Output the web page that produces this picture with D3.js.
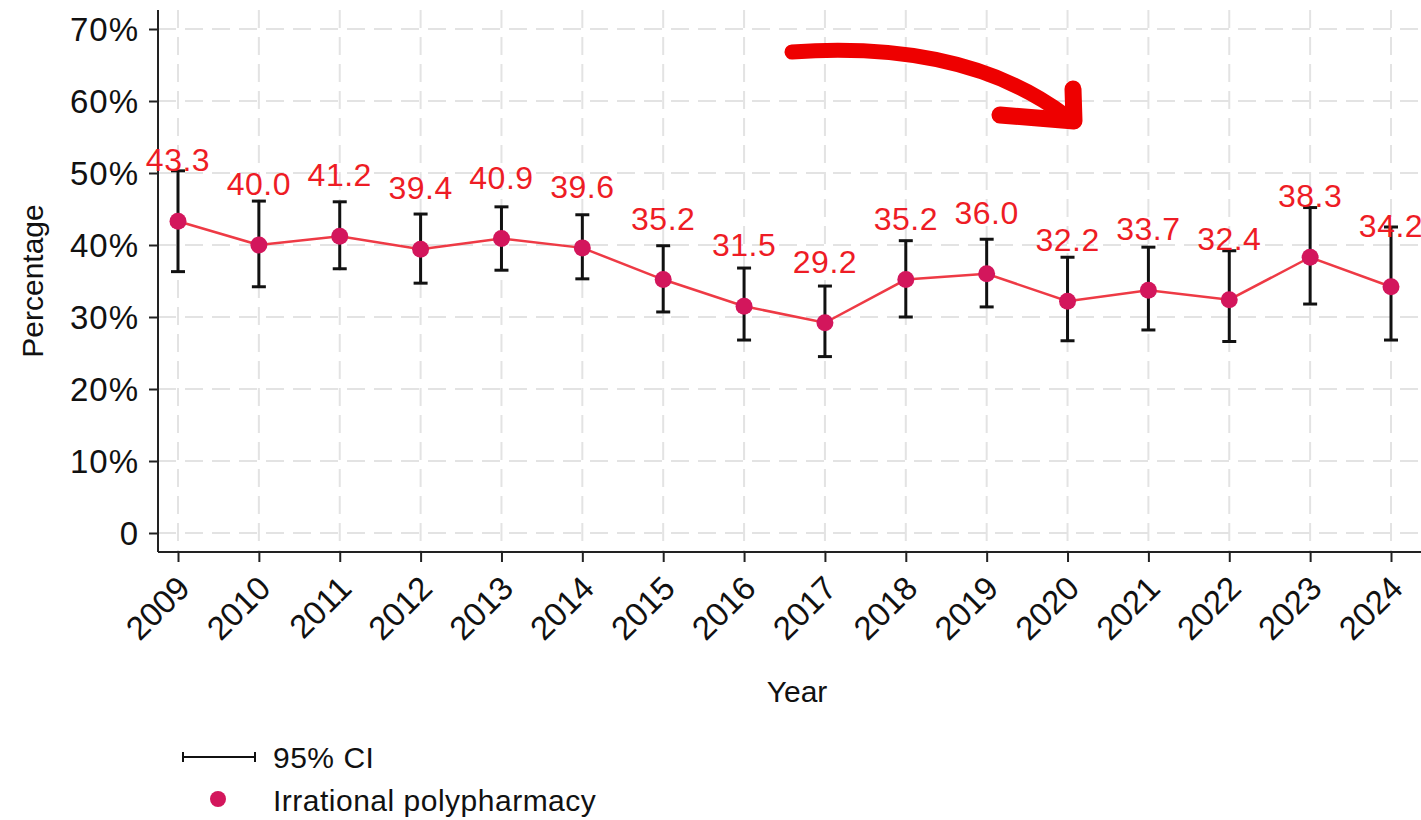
<!DOCTYPE html>
<html><head><meta charset="utf-8">
<script src="https://cdn.jsdelivr.net/npm/d3@7"></script>
<style>body{margin:0;background:#fff;}svg{display:block;font-family:"Liberation Sans",Arial,sans-serif;}</style>
</head><body>
<svg id="c" width="1421" height="820"></svg>
<script>
const years = [2009,2010,2011,2012,2013,2014,2015,2016,2017,2018,2019,2020,2021,2022,2023,2024];
const values = [43.3,40.0,41.2,39.4,40.9,39.6,35.2,31.5,29.2,35.2,36.0,32.2,33.7,32.4,38.3,34.2];
const ciLow  = [36.3,34.2,36.7,34.7,36.5,35.3,30.7,26.8,24.5,30.0,31.4,26.7,28.2,26.6,31.8,26.8];
const ciHigh = [50.3,46.1,46.0,44.3,45.3,44.2,39.9,36.8,34.3,40.6,40.8,38.3,39.7,39.2,45.2,42.5];
const yTicks = [0,10,20,30,40,50,60,70];
const yTickLabels = ["0","10%","20%","30%","40%","50%","60%","70%"];

(function(){
const svg = d3.select("#c");
const pL = 158, pR = 1421, pT = 10, pB = 552;
const x = d3.scaleLinear().domain([2009,2024]).range([178,1391]);
const y = d3.scaleLinear().domain([0,70]).range([533,29]);

// grid
const g = svg.append("g");
g.selectAll(".hg").data(yTicks).join("line")
  .attr("x1",pL).attr("x2",pR).attr("y1",d=>y(d)).attr("y2",d=>y(d))
  .attr("stroke","#e3e3e3").attr("stroke-width",2).attr("stroke-dasharray","18,9");
g.selectAll(".vg").data(years).join("line")
  .attr("x1",d=>x(d)).attr("x2",d=>x(d)).attr("y1",pT).attr("y2",pB)
  .attr("stroke","#e3e3e3").attr("stroke-width",2).attr("stroke-dasharray","18,9");

// axes
const yAxis = d3.axisLeft(y).tickValues(yTicks).tickFormat((d,i)=>yTickLabels[i]).tickSize(9).tickPadding(10);
const ya = svg.append("g").attr("transform",`translate(${pL},0)`).call(yAxis);
ya.select(".domain").remove();
ya.selectAll("line").attr("stroke","#222").attr("stroke-width",2);
ya.selectAll("text").attr("font-size",33).attr("letter-spacing","1px").attr("fill","#111").attr("font-family","Liberation Sans, Arial, sans-serif").attr("dy","0.35em");
svg.append("line").attr("x1",pL).attr("x2",pL).attr("y1",pT).attr("y2",pB).attr("stroke","#222").attr("stroke-width",2);

const xAxis = d3.axisBottom(x).tickValues(years).tickFormat(d3.format("d")).tickSize(10).tickPadding(6);
const xa = svg.append("g").attr("transform",`translate(0,${pB})`).call(xAxis);
xa.select(".domain").remove();
xa.selectAll("line").attr("stroke","#222").attr("stroke-width",2);
xa.selectAll("text").attr("font-size",33).attr("fill","#111").attr("font-family","Liberation Sans, Arial, sans-serif")
  .attr("text-anchor","end").attr("y",0).attr("dy","0.35em")
  .attr("transform","translate(5,30) rotate(-45)");
svg.append("line").attr("x1",pL).attr("x2",pR).attr("y1",pB).attr("y2",pB).attr("stroke","#222").attr("stroke-width",2);

// axis titles
svg.append("text").attr("x",797).attr("y",702).attr("text-anchor","middle").attr("font-size",30).attr("fill","#111").text("Year");
svg.append("text").attr("transform","translate(43,281) rotate(-90)").attr("text-anchor","middle").attr("font-size",30).attr("fill","#111").text("Percentage");

// line
const idx = d3.range(years.length);
svg.append("path").datum(idx)
  .attr("d", d3.line().x(i=>x(years[i])).y(i=>y(values[i])))
  .attr("fill","none").attr("stroke","#ee3a45").attr("stroke-width",2.5);

// error bars
const eb = svg.append("g").attr("stroke","#111").attr("stroke-width",3);
eb.selectAll(".v").data(idx).join("line")
  .attr("x1",i=>x(years[i])).attr("x2",i=>x(years[i])).attr("y1",i=>y(ciLow[i])).attr("y2",i=>y(ciHigh[i]));
eb.selectAll(".t").data(idx).join("line")
  .attr("x1",i=>x(years[i])-7).attr("x2",i=>x(years[i])+7).attr("y1",i=>y(ciHigh[i])).attr("y2",i=>y(ciHigh[i]));
eb.selectAll(".b").data(idx).join("line")
  .attr("x1",i=>x(years[i])-7).attr("x2",i=>x(years[i])+7).attr("y1",i=>y(ciLow[i])).attr("y2",i=>y(ciLow[i]));

// points
svg.append("g").selectAll("circle").data(idx).join("circle")
  .attr("cx",i=>x(years[i])).attr("cy",i=>y(values[i])).attr("r",8.5).attr("fill","#d3165c");

// labels
svg.append("g").selectAll("text").data(idx).join("text")
  .attr("x",i=>x(years[i])).attr("y",i=>y(values[i])-50)
  .attr("text-anchor","middle").attr("font-size",32).attr("letter-spacing","0.5px").attr("fill","#ee1c25")
  .text(i=>values[i].toFixed(1));

// arrow
const arrow = svg.append("g").attr("stroke","#ee0000").attr("fill","none").attr("stroke-linecap","round").attr("stroke-linejoin","round");
arrow.append("path").attr("d","M792,52 Q965,40 1066,116").attr("stroke-width",15);
arrow.append("path").attr("d","M1073,89 L1074,121 L1000,115").attr("stroke-width",17);

// legend
const lg = svg.append("g");
lg.append("line").attr("x1",183).attr("x2",255).attr("y1",757).attr("y2",757).attr("stroke","#111").attr("stroke-width",2);
lg.append("line").attr("x1",183).attr("x2",183).attr("y1",752).attr("y2",762).attr("stroke","#111").attr("stroke-width",2);
lg.append("line").attr("x1",255).attr("x2",255).attr("y1",752).attr("y2",762).attr("stroke","#111").attr("stroke-width",2);
lg.append("text").attr("x",273).attr("y",768).attr("font-size",30).attr("letter-spacing","0.5px").attr("fill","#111").text("95% CI");
lg.append("circle").attr("cx",218).attr("cy",799).attr("r",8).attr("fill","#d3165c");
lg.append("text").attr("x",273).attr("y",811).attr("font-size",30).attr("letter-spacing","0.5px").attr("fill","#111").text("Irrational polypharmacy");
})();
</script>
</body></html>
